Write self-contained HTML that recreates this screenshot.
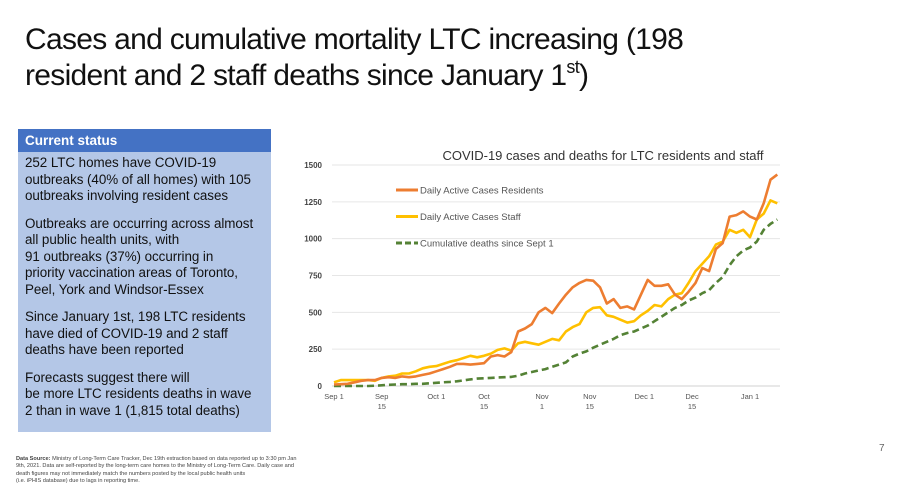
<!DOCTYPE html>
<html><head><meta charset="utf-8"><style>
body{margin:0;width:900px;height:500px;background:#fff;font-family:"Liberation Sans",sans-serif;position:relative;overflow:hidden}
#title{position:absolute;left:25px;top:22px;font-size:30px;line-height:36px;color:#111;letter-spacing:-0.7px;white-space:nowrap}
#title sup{font-size:18px;line-height:0;vertical-align:12px}
#box{position:absolute;left:18px;top:129px;width:253px;height:303px;background:#b4c7e7}
#hdr{background:#4472c4;color:#fff;font-weight:bold;font-size:13.5px;height:23px;line-height:23px;padding-left:7px}
.p{font-size:13.4px;line-height:16.5px;color:#111;padding:3px 0 8px 7px;letter-spacing:-0.05px;white-space:nowrap}
#src{position:absolute;left:16px;top:456px;font-size:5.6px;line-height:7.4px;color:#444;white-space:nowrap}
#pg{position:absolute;left:879px;top:443px;font-size:10px;color:#666}
svg{position:absolute;left:0;top:0}
</style></head><body>
<div id="title">Cases and cumulative mortality LTC increasing (198<br>resident and 2 staff deaths since January 1<sup>st</sup>)</div>
<div id="box">
<div id="hdr">Current status</div>
<div class="p">252 LTC homes have COVID-19<br>outbreaks (40% of all homes) with 105<br>outbreaks involving resident cases</div>
<div class="p">Outbreaks are occurring across almost<br>all public health units, with<br>91 outbreaks (37%) occurring in<br>priority vaccination areas of Toronto,<br>Peel, York and Windsor-Essex</div>
<div class="p">Since January 1st, 198 LTC residents<br>have died of COVID-19 and 2 staff<br>deaths have been reported</div>
<div class="p">Forecasts suggest there will<br>be more LTC residents deaths in wave<br>2 than in wave 1 (1,815 total deaths)</div>
</div>
<div id="src"><b>Data Source:</b> Ministry of Long-Term Care Tracker, Dec 19th extraction based on data reported up to 3:30 pm Jan<br>9th, 2021. Data are self-reported by the long-term care homes to the Ministry of Long-Term Care. Daily case and<br>death figures may not immediately match the numbers posted by the local public health units<br>(i.e. iPHIS database) due to lags in reporting time.</div>
<div id="pg">7</div>
<svg id="chart" width="900" height="500"></svg>
<script>
const days=[];for(let i=0;i<=130;i+=2)days.push(i);
const residents=[10,12,15,25,35,40,40,55,60,55,65,60,65,75,85,100,115,130,150,150,145,150,155,200,210,200,230,370,390,420,500,530,495,560,620,670,700,720,715,670,560,590,530,540,520,620,720,680,680,690,620,590,640,700,800,780,930,970,1150,1160,1185,1150,1130,1240,1400,1435];
const staff=[25,40,40,40,40,40,35,55,65,70,85,85,100,120,130,135,150,165,175,190,205,195,205,220,245,255,240,290,300,290,280,300,320,310,370,400,420,500,530,535,480,470,450,430,440,480,510,550,540,590,620,630,700,780,830,880,960,980,1060,1040,1060,1010,1130,1170,1260,1240];
const deaths=[0,0,0,0,0,0,2,5,8,10,12,12,15,15,18,22,25,28,32,38,45,50,52,55,58,60,62,70,85,95,105,115,130,145,160,200,220,235,260,280,300,320,345,360,370,390,410,440,470,500,530,550,580,600,630,650,700,740,820,880,920,940,980,1060,1100,1130];
const yTicks=[0,250,500,750,1000,1250,1500];
const xTickDays=[0,14,30,44,61,75,91,105,122];
const xTickL1=["Sep 1","Sep","Oct 1","Oct","Nov","Nov","Dec 1","Dec","Jan 1"];
const xTickL2=["","15","","15","1","15","","15",""];
const ns="http://www.w3.org/2000/svg",svg=document.getElementById('chart');
const X=d=>334+d*3.41, Y=v=>386-v*(221/1500);
function el(t,a,txt){const e=document.createElementNS(ns,t);for(const k in a)e.setAttribute(k,a[k]);if(txt!==undefined)e.textContent=txt;svg.appendChild(e);return e;}
let t=el('text',{x:603,y:160,'font-size':13,'text-anchor':'middle',fill:'#333'},'COVID-19 cases and deaths for LTC residents and staff');

yTicks.forEach(v=>{
 let g=el('line',{x1:332,x2:780,y1:Y(v),y2:Y(v),stroke:v?'#e6e6e6':'#d0d0d0','stroke-width':1});
 
 let l=el('text',{x:322,y:Y(v)+3,'font-size':8,'text-anchor':'end',fill:'#444','font-weight':'bold'},v);
 
});
xTickDays.forEach((d,i)=>{
 let a=el('text',{x:X(d),y:399,'font-size':7.5,'text-anchor':'middle',fill:'#555'},xTickL1[i]);
 
 if(xTickL2[i]){let b=el('text',{x:X(d),y:409,'font-size':7.5,'text-anchor':'middle',fill:'#555'},xTickL2[i]);
 }
});
function series(vals,color,dash,name){
 const pts=vals.map((v,i)=>X(days[i]).toFixed(1)+','+Y(v).toFixed(1)).join(' ');
 const p=el('polyline',{points:pts,fill:'none',stroke:color,'stroke-width':2.6,'stroke-linejoin':'round','stroke-dasharray':dash||'none'});
 
}
series(deaths,'#548235','7 4','series-cumulative-deaths');
series(staff,'#ffc000',null,'series-staff-cases');
series(residents,'#ed7d31',null,'series-resident-cases');
const legNames=['Daily Active Cases Residents','Daily Active Cases Staff','Cumulative deaths since Sept 1'];
const legColors=['#ed7d31','#ffc000','#548235'];
legNames.forEach((n,i)=>{
 const y=190+i*26.5;
 let ln=el('line',{x1:396,x2:418,y1:y,y2:y,stroke:legColors[i],'stroke-width':3,'stroke-dasharray':i==2?'6 3':'none'});
 
 let tx=el('text',{x:420,y:y+3.5,'font-size':9.5,fill:'#555'},n);
 
});
</script>
</body></html>
